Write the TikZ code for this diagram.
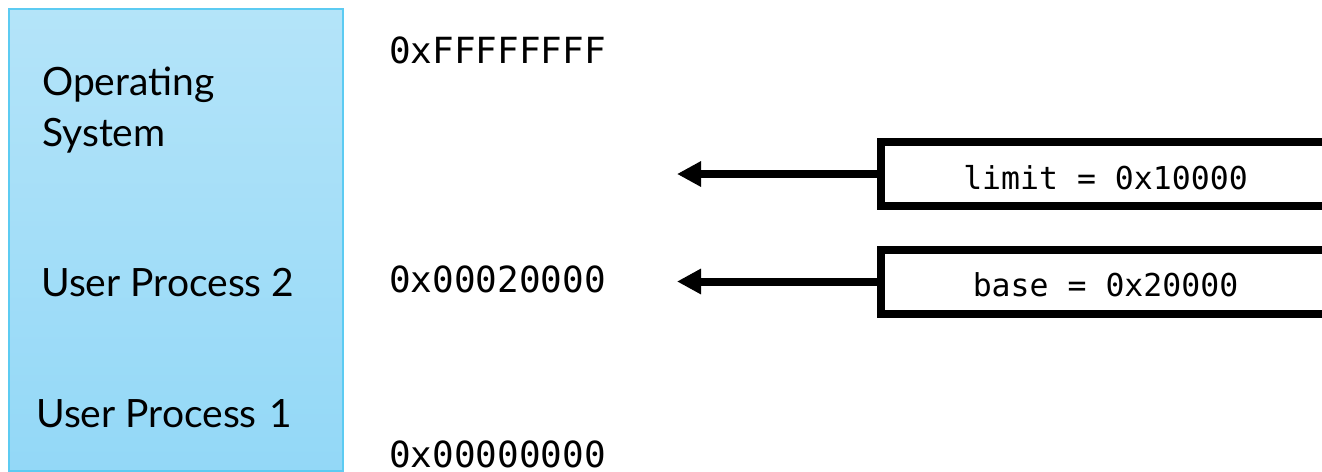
\documentclass[tikz,border=0pt]{standalone}
\usepackage{fontspec}
\setmainfont{Lato}
\setmonofont{DejaVu Sans Mono}
\usetikzlibrary{arrows.meta}
\definecolor{memtop}{HTML}{B4E4F9}
\definecolor{membot}{HTML}{93D8F7}
\definecolor{memedge}{HTML}{5CCBF2}
\begin{document}
\begin{tikzpicture}[x=1pt,y=-1pt,
  regbox/.style={draw=black, line width=8pt, fill=white, minimum width=449pt, minimum height=64pt, inner sep=0pt, text height=30pt, text depth=0pt, font=\ttfamily\fontsize{31.5}{38}\selectfont},
  addr/.style={anchor=base west, inner sep=0pt, text depth=0pt, font=\ttfamily\fontsize{36}{43}\selectfont},
  region/.style={anchor=base west, inner sep=0pt, align=left, font=\fontsize{39}{51}\selectfont},
  ptr/.style={line width=8pt, -{Triangle[length=24pt,width=24pt]}}]
\clip (0,0) rectangle (1322,471);
\node[draw=memedge, line width=2pt, top color=memtop, bottom color=membot, minimum width=334pt, minimum height=462pt, inner sep=0pt, anchor=north west] (mem) at (8,8) {};
\node[region] (os) at (42,146) {Operating\\System};
\node[region] (up2) at (41,296) {User Process 2};
\node[region] (up1) at (36,427) {User Process\,\,1};
\node[addr] (atop) at (389,63) {0xFFFFFFFF};
\node[addr] (amid) at (389,292) {0x00020000};
\node[addr] (abot) at (389,467.5) {0x00000000};
\node[regbox] (limit) at (1105.5,174) {limit = 0x10000};
\node[regbox] (base) at (1105.5,281.5) {base = 0x20000};
\coordinate (limtip) at (677,174);
\coordinate (basetip) at (677,281.5);
\draw[ptr] (limit.west) -- (limtip);
\draw[ptr] (base.west) -- (basetip);
\end{tikzpicture}
\end{document}
